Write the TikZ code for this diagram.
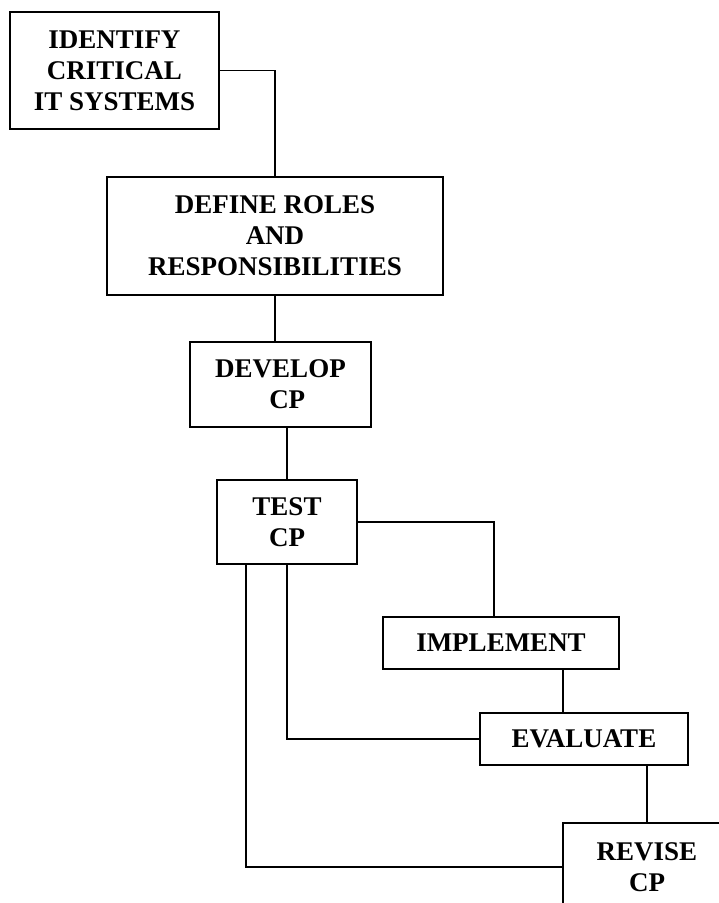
\documentclass[tikz,border=0pt]{standalone}
\usepackage{fontspec}
\setmainfont{Liberation Serif}
\begin{document}
\begin{tikzpicture}[x=1pt,y=-1pt,
  box/.style={draw,line width=1.5pt,inner sep=0pt,align=center,
    font=\bfseries\fontsize{27}{31}\selectfont},
  conn/.style={line width=1.3pt}]
\clip (0,0) rectangle (719,903);
\fill[white] (0,0) rectangle (719,903);
\node[box,minimum width=209pt,minimum height=117pt] (id) at (114.5,70.5) {IDENTIFY\\CRITICAL\\IT SYSTEMS};
\node[box,minimum width=336pt,minimum height=118pt] (def) at (275,236) {DEFINE ROLES\\AND\\RESPONSIBILITIES};
\node[box,minimum width=181pt,minimum height=85pt] (dev) at (280.5,384.5) {DEVELOP\\\ \ CP};
\node[box,minimum width=140pt,minimum height=84pt] (test) at (287,522) {TEST\\CP};
\node[box,minimum width=236pt,minimum height=52pt] (imp) at (501,643) {IMPLEMENT};
\node[box,minimum width=208pt,minimum height=52pt] (eval) at (584,739) {EVALUATE};
\node[box,minimum width=168pt,minimum height=88pt] (rev) at (647,867) {REVISE\\CP};
\draw[conn] (id.east) -| (def.north);
\draw[conn] (def.south) -- (def.south |- dev.north);
\draw[conn] (test.north |- dev.south) -- (test.north);
\coordinate (impin) at ([xshift=-7pt]imp.north);
\draw[conn] (test.east) -| (impin);
\coordinate (evin) at ([xshift=-21pt]eval.north);
\draw[conn] (evin |- imp.south) -- (evin);
\draw[conn] (test.south) |- (eval.west);
\coordinate (tout) at ([xshift=-41pt]test.south);
\draw[conn] (tout) |- (rev.west);
\draw[conn] (rev.north |- eval.south) -- (rev.north);
\end{tikzpicture}
\end{document}
